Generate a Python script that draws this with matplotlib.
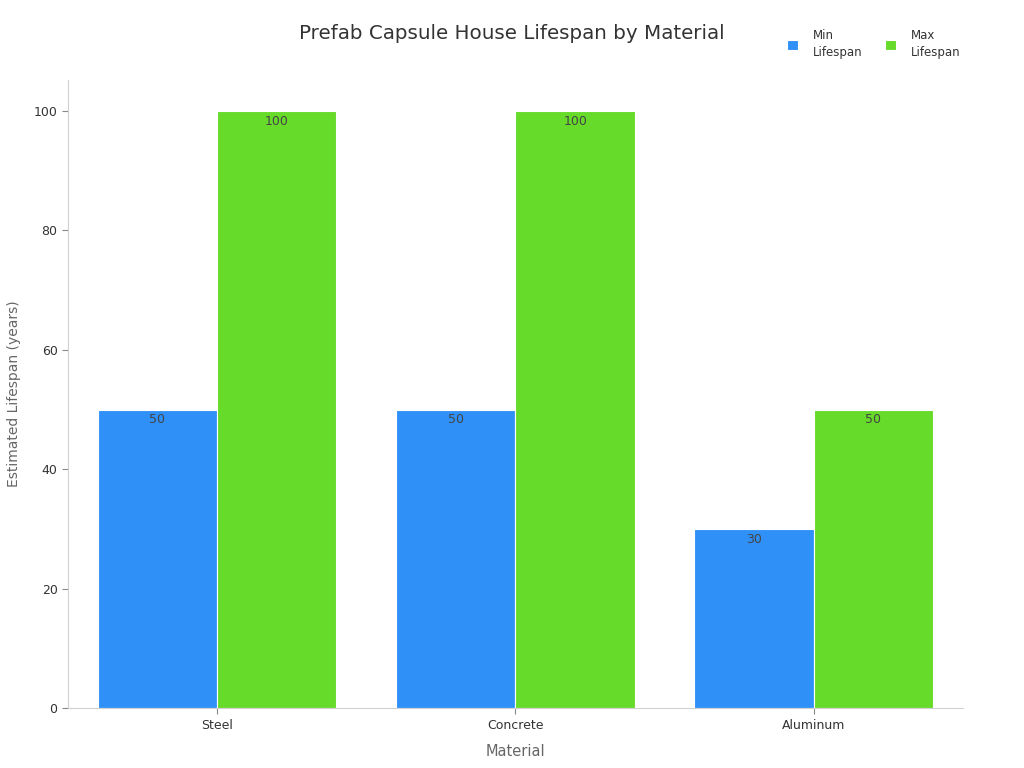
import numpy as np
import matplotlib.pyplot as plt

materials = ["Steel", "Concrete", "Aluminum"]
min_lifespan = [50, 50, 30]
max_lifespan = [100, 100, 50]

series_names = ["Min\nLifespan", "Max\nLifespan"]
colors = ["#2f91f7", "#66db29"]

fig = plt.figure(figsize=(10.24, 7.68), dpi=100)
ax = fig.add_axes([0.0664, 0.078, 0.8740, 0.818])

x = np.arange(len(materials))
w = 0.4
for i, (vals, name, c) in enumerate(zip([min_lifespan, max_lifespan], series_names, colors)):
    b = ax.bar(x + (i - 0.5) * w, vals, w, color=c, edgecolor="white", linewidth=0.8, label=name)
    for rect, v in zip(b, vals):
        ax.text(rect.get_x() + rect.get_width() / 2, v - 0.6, str(v),
                ha="center", va="top", fontsize=9, color="#444444")

ax.set_xlim(-0.5, 2.5)
ax.set_ylim(0, 105.2)
ax.set_xticks(x)
ax.set_xticklabels(materials)
ax.set_yticks([0, 20, 40, 60, 80, 100])
ax.tick_params(axis="both", labelsize=9, labelcolor="#333333", length=4, color="#888888")

for s in ["top", "right"]:
    ax.spines[s].set_visible(False)
for s in ["left", "bottom"]:
    ax.spines[s].set_color("#d0d0d0")

ax.set_xlabel("Material", fontsize=10.5, color="#666666", labelpad=9)
ax.set_ylabel("Estimated Lifespan (years)", fontsize=10, color="#666666", labelpad=9)

fig.text(0.5, 0.957, "Prefab Capsule House Lifespan by Material", ha="center", va="center",
         fontsize=14.3, color="#333333")

leg = fig.legend(loc="center left", bbox_to_anchor=(787 / 1024, 1 - 44 / 768),
                 ncol=2, frameon=False, fontsize=8.5, handlelength=0.9, handleheight=0.9,
                 columnspacing=1.9, handletextpad=1.3, borderaxespad=0, borderpad=0)
for t in leg.get_texts():
    t.set_linespacing(1.45)
    t.set_color("#333333")

fig.savefig("out.png", dpi=100)
